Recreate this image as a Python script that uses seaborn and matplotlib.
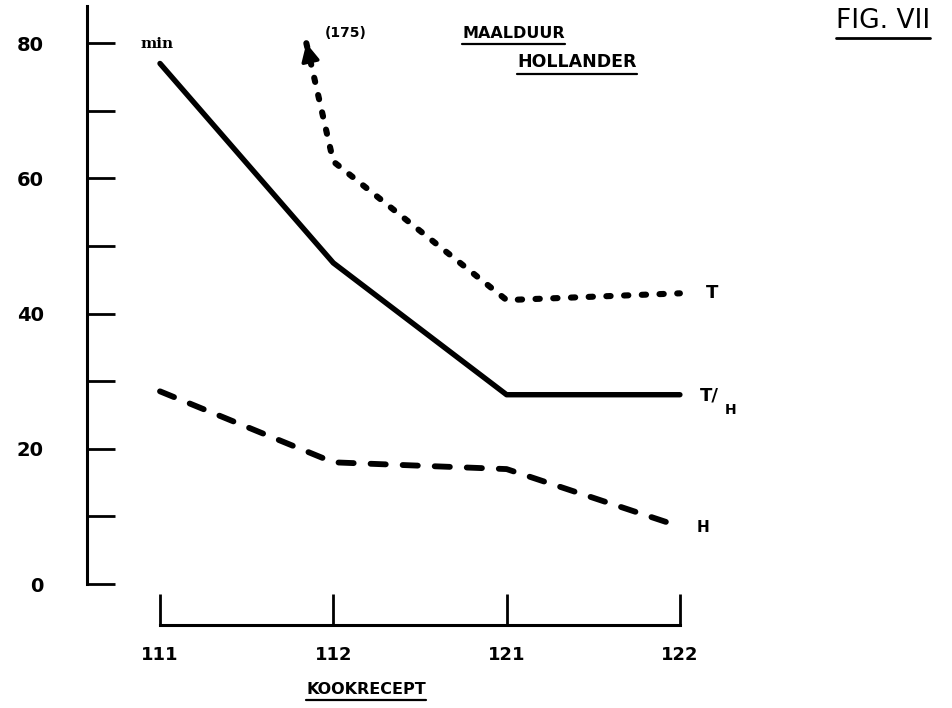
import numpy as np
import pandas as pd
import matplotlib
matplotlib.use("Agg")
import matplotlib.pyplot as plt
from matplotlib.lines import Line2D
import seaborn as sns

# Cooking recipes on the x axis
recipes = ["111", "112", "121", "122"]
# Beater grinding time in minutes
t_minutes = [175, 62.5, 42, 43]      # T  (first value is off the scale)
th_minutes = [77, 47.5, 28, 28]      # T/H
h_minutes = [28.5, 18, 17, 8.5]      # H
y_major = [0, 20, 40, 60, 80]
y_minor = [10, 30, 50, 70]
scale_top = 80

sns.set_theme(style="white")
plt.rcParams["font.family"] = ["DejaVu Sans"]

W, H = 952, 708
fig = plt.figure(figsize=(W / 100, H / 100), dpi=100)
fig.patch.set_facecolor("white")

# axes geometry in pixels
left_px, right_px = 87, 900
x0_px, step_px = 160, 173.3
y0_px, ppu = 584, 6.76
ax = fig.add_axes([left_px / W, 0, (right_px - left_px) / W, 1])
ax.set_facecolor("white")

pos = np.arange(len(recipes))

th_df = pd.DataFrame({"pos": pos, "min": th_minutes})
h_df = pd.DataFrame({"pos": pos, "min": h_minutes})

# T runs off the top of the scale: cut it where it reaches the top value
t_vals = np.array(t_minutes, dtype=float)
x_clip = pos[1] + (scale_top - t_vals[1]) / (t_vals[0] - t_vals[1]) * (pos[0] - pos[1])
t_df = pd.DataFrame({"pos": np.r_[x_clip, pos[1:]], "min": np.r_[scale_top, t_vals[1:]]})

sns.lineplot(data=th_df, x="pos", y="min", ax=ax, color="black", lw=3.9,
             estimator=None, solid_capstyle="round", solid_joinstyle="round")
sns.lineplot(data=t_df, x="pos", y="min", ax=ax, color="black", lw=4.4,
             estimator=None, sort=False, linestyle=(0, (0.7, 2.2)),
             dash_capstyle="round")
sns.lineplot(data=h_df, x="pos", y="min", ax=ax, color="black", lw=4.2,
             estimator=None, linestyle=(0, (2.6, 2.9)), dash_capstyle="round")

# arrow head at the cut end of T
frac = 0.16
tail = (x_clip + frac * (pos[1] - x_clip), scale_top + frac * (t_vals[1] - scale_top))
ax.annotate("", xy=(x_clip, scale_top), xytext=tail,
            arrowprops=dict(arrowstyle="-|>,head_length=0.9,head_width=0.45",
                            color="black", lw=2.5, shrinkA=0, shrinkB=0))

ax.set_xlim((left_px - x0_px) / step_px, (right_px - x0_px) / step_px)
ax.set_ylim(-(H - y0_px) / ppu, y0_px / ppu)
ax.set_xlabel("")
ax.set_ylabel("")

for side in ("top", "right"):
    ax.spines[side].set_visible(False)
ax.spines["left"].set_bounds(0, 85.5)
ax.spines["left"].set_linewidth(2.2)
ax.spines["left"].set_color("black")
ax.spines["bottom"].set_position(("data", -6.1))
ax.spines["bottom"].set_bounds(pos[0], pos[-1])
ax.spines["bottom"].set_linewidth(2.2)
ax.spines["bottom"].set_color("black")

ax.set_yticks(y_major)
ax.set_yticks(y_minor, minor=True)
ax.set_xticks(pos, recipes)
ax.tick_params(axis="y", which="both", direction="in", length=20, width=2.0,
               pad=31, labelsize=14, colors="black", left=True)
ax.tick_params(axis="x", direction="in", length=22, width=2.0, pad=15,
               labelsize=13, colors="black", bottom=True)
for lbl in ax.get_xticklabels() + ax.get_yticklabels():
    lbl.set_fontweight("bold")


def put(x, y, s, **kw):
    return fig.text(x / W, 1 - y / H, s, va="center", color="black", **kw)


def underline(t, gap, lw=1.6):
    fig.canvas.draw()
    bb = t.get_window_extent()
    y = bb.y0 - gap
    fig.add_artist(Line2D([bb.x0 / W, bb.x1 / W], [y / H, y / H],
                          transform=fig.transFigure, color="black", lw=lw))


put(157, 44, "min", ha="center", fontsize=11, fontweight="bold",
    family=["DejaVu Serif"])
put(346, 33, "(175)", ha="center", fontsize=10, fontweight="bold")
t1 = put(462, 33, "MAALDUUR", ha="left", fontsize=11.5, fontweight="bold")
t2 = put(517, 62, "HOLLANDER", ha="left", fontsize=12.5, fontweight="bold")
t3 = put(836, 21, "FIG. VII", ha="left", fontsize=19)
t4 = put(366, 689, "KOOKRECEPT", ha="center", fontsize=11.5, fontweight="bold")

put(712, 293, "T", ha="center", fontsize=13, fontweight="bold")
put(709, 396, "T/", ha="center", fontsize=13, fontweight="bold")
put(731, 410, "H", ha="center", fontsize=10, fontweight="bold")
put(703, 527, "H", ha="center", fontsize=11, fontweight="bold")

underline(t1, 3)
underline(t2, 3)
underline(t3, 4, lw=2)
underline(t4, 3)

fig.savefig("out.png", dpi=100, facecolor="white")
